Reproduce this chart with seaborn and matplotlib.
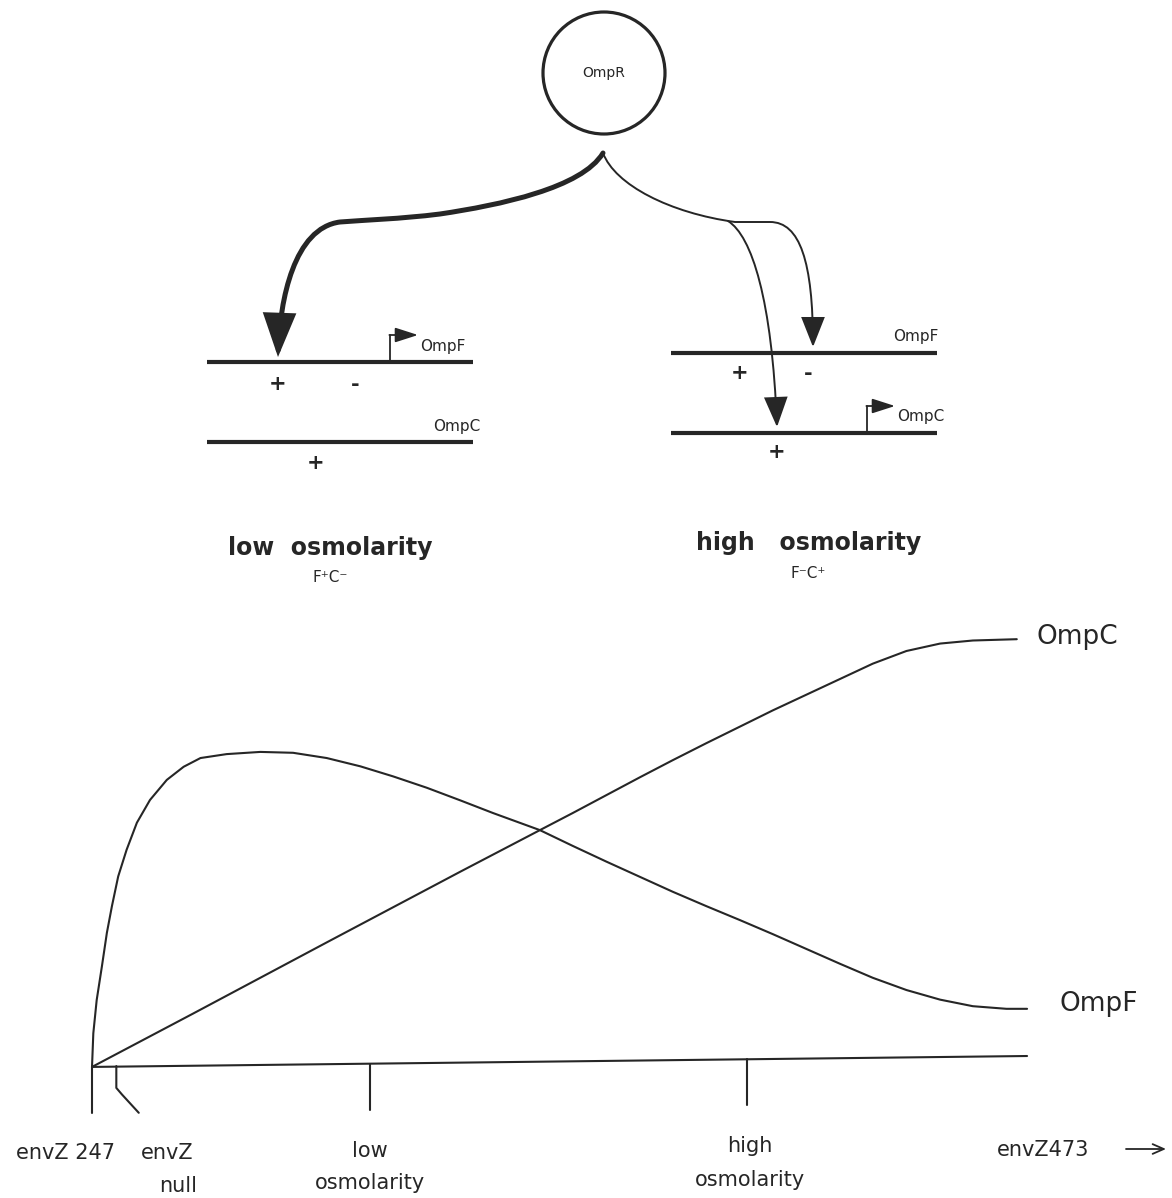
import matplotlib
matplotlib.use("Agg")
import matplotlib.pyplot as plt
import seaborn as sns
from matplotlib.path import Path
from matplotlib.patches import FancyArrowPatch, Circle

# curvas del grafico (x = osmolaridad 0-100, y = nivel relativo 0-100)
ompc_x = [0, 10.8, 25.1, 39.4, 47.9, 51.4, 55.0, 58.6, 62.1, 65.7, 69.3, 72.8,
          76.4, 80.0, 83.5, 87.1, 90.7, 94.2, 98.9]
ompc_y = [0, 12.2, 28.5, 44.7, 54.2, 58.1, 62.2, 66.3, 70.2, 74.1, 77.9, 81.6,
          85.2, 88.8, 92.3, 95.2, 96.9, 97.6, 97.9]
ompf_x = [0, 0.14, 0.5, 1.05, 1.59, 2.13, 2.8, 3.7, 4.8, 6.2, 8.0, 9.8, 11.6,
          14.4, 18.0, 21.5, 25.1, 28.7, 32.2, 35.8, 39.4, 42.9, 47.9, 51.4,
          55.0, 58.6, 62.1, 65.7, 69.3, 72.8, 76.4, 80.0, 83.5, 87.1, 90.7,
          94.2, 97.8, 100]
ompf_y = [0, 7.7, 15.3, 22.9, 30.7, 36.8, 43.6, 49.7, 55.9, 61.1, 65.7, 68.7, 70.7,
          71.6, 72.1, 71.9, 70.7, 68.8, 66.5, 63.9, 61.0, 58.1, 54.2, 50.6,
          47.0, 43.5, 40.1, 36.8, 33.6, 30.4, 27.0, 23.6, 20.4, 17.6, 15.4,
          13.9, 13.3, 13.3]
eje_x = [0, 100]
eje_y = [0, 2.5]
ticks_x = [0, 29.7, 70.1]
ticks_largo = [10.5, 9.8, 8.7]
etiquetas = ["envZ 247", "envZ", "null", "low", "osmolarity", "high", "osmolarity", "envZ473"]

COLOR = "#262626"

sns.set_theme(style="white")
plt.rcParams['font.family'] = ['DejaVu Sans']

fig = plt.figure(figsize=(11.72, 11.98), dpi=100)
ax = fig.add_axes([0, 0, 1, 1])
ax.set_xlim(0, 1172)
ax.set_ylim(1198, 0)
ax.axis('off')

ax2 = fig.add_axes([0, 0, 1, 1])
ax2.patch.set_alpha(0)
ax2.set_xlim(-9.84, 115.5)
ax2.set_ylim(-30, 244.2)
ax2.axis('off')


def flecha(puntos, codigos, lw, hl, hw):
    p = Path(puntos, codigos)
    a = FancyArrowPatch(path=p, arrowstyle=f"-|>,head_length={hl},head_width={hw}",
                        mutation_scale=10, lw=lw, color=COLOR, shrinkA=0, shrinkB=0,
                        joinstyle='miter')
    ax.add_patch(a)


## OmpR ##
ax.add_patch(Circle((604, 73), 61, fill=False, lw=2.3, ec=COLOR))
ax.text(604, 73, "OmpR", ha='center', va='center', fontsize=10, color=COLOR)

# flecha gruesa (baja osmolaridad)
M, C, L = Path.MOVETO, Path.CURVE4, Path.LINETO
flecha([(603, 153), (582, 188), (500, 205), (440, 214),
        (400, 219), (365, 220), (340, 222),
        (294, 228), (280, 300), (278, 357)],
       [M, C, C, C, C, C, C, C, C, C], 3.6, 2.5, 0.95)

# flechas finas (alta osmolaridad)
flecha([(603, 153), (615, 185), (670, 213), (735, 222),
        (770, 222), (800, 222), (813, 262), (813, 347)],
       [M, C, C, C, L, C, C, C], 1.4, 1.9, 0.75)
flecha([(728, 221), (752, 236), (772, 300), (777, 427)],
       [M, C, C, C], 1.4, 1.9, 0.75)

## genes ##
for x0, x1, y in [(207, 473, 362), (207, 473, 442), (671, 937, 353), (671, 937, 433)]:
    ax.plot([x0, x1], [y, y], color=COLOR, lw=3.0, solid_capstyle='butt')

# promotores
for xp, y in [(390, 362), (867, 433)]:
    ax.plot([xp, xp], [y, y - 27], color=COLOR, lw=1.3)
    ax.annotate("", xy=(xp + 28, y - 27), xytext=(xp - 0.6, y - 27),
                arrowprops=dict(arrowstyle="-|>,head_length=1.4,head_width=0.45",
                                mutation_scale=10, color=COLOR, lw=1.3,
                                shrinkA=0, shrinkB=0))

kw = dict(fontsize=11, color=COLOR, va='center')
ax.text(420, 346, "OmpF", ha='left', **kw)
ax.text(480, 426, "OmpC", ha='right', **kw)
ax.text(939, 337, "OmpF", ha='right', **kw)
ax.text(897, 416, "OmpC", ha='left', **kw)

kp = dict(fontsize=15, color=COLOR, ha='center', va='center', fontweight='bold')
ax.text(278, 384, "+", **kp)
ax.text(355, 385, "-", **kp)
ax.text(316, 463, "+", **kp)
ax.text(740, 373, "+", **kp)
ax.text(808, 374, "-", **kp)
ax.text(777, 452, "+", **kp)

kt = dict(fontsize=17, ha='center', va='center', color=COLOR, fontweight='bold')
ax.text(330, 548, "low  osmolarity", **kt)
ax.text(330, 578, "F\u207aC\u207b", fontsize=11, ha='center', va='center', color=COLOR)
ax.text(809, 543, "high   osmolarity", **kt)
ax.text(808, 574, "F\u207bC\u207a", fontsize=11, ha='center', va='center', color=COLOR)

## grafico ##
sns.lineplot(x=ompc_x, y=ompc_y, ax=ax2, color=COLOR, lw=1.5, sort=False, estimator=None)
sns.lineplot(x=ompf_x, y=ompf_y, ax=ax2, color=COLOR, lw=1.5, sort=False, estimator=None)
ax2.plot(eje_x, eje_y, color=COLOR, lw=1.5)
for tx, tl in zip(ticks_x, ticks_largo):
    y0 = eje_y[0] + (eje_y[1] - eje_y[0]) * tx / 100
    ax2.plot([tx, tx], [y0, -tl], color=COLOR, lw=1.5)
ax2.plot([2.6, 2.6, 3.2, 5.0], [0.2, -4.8, -6.3, -10.5], color=COLOR, lw=1.5)

ax2.text(101, 98.5, "OmpC", fontsize=19, ha='left', va='center', color=COLOR)
ax2.text(103.5, 14.3, "OmpF", fontsize=19, ha='left', va='center', color=COLOR)

kb = dict(fontsize=15, ha='center', va='center', color=COLOR)
ax.text(66, 1153, etiquetas[0], **kb)
ax.text(167, 1153, etiquetas[1], **kb)
ax.text(178, 1186, etiquetas[2], **kb)
ax.text(370, 1151, etiquetas[3], **kb)
ax.text(370, 1183, etiquetas[4], **kb)
ax.text(750, 1146, etiquetas[5], **kb)
ax.text(750, 1180, etiquetas[6], **kb)
ax.text(1043, 1150, etiquetas[7], **kb)
ax.annotate("", xy=(1166, 1149), xytext=(1126, 1149),
            arrowprops=dict(arrowstyle="->,head_length=0.8,head_width=0.35",
                            mutation_scale=10, color=COLOR, lw=1.3, shrinkA=0, shrinkB=0))

fig.savefig("out.png", dpi=100)
